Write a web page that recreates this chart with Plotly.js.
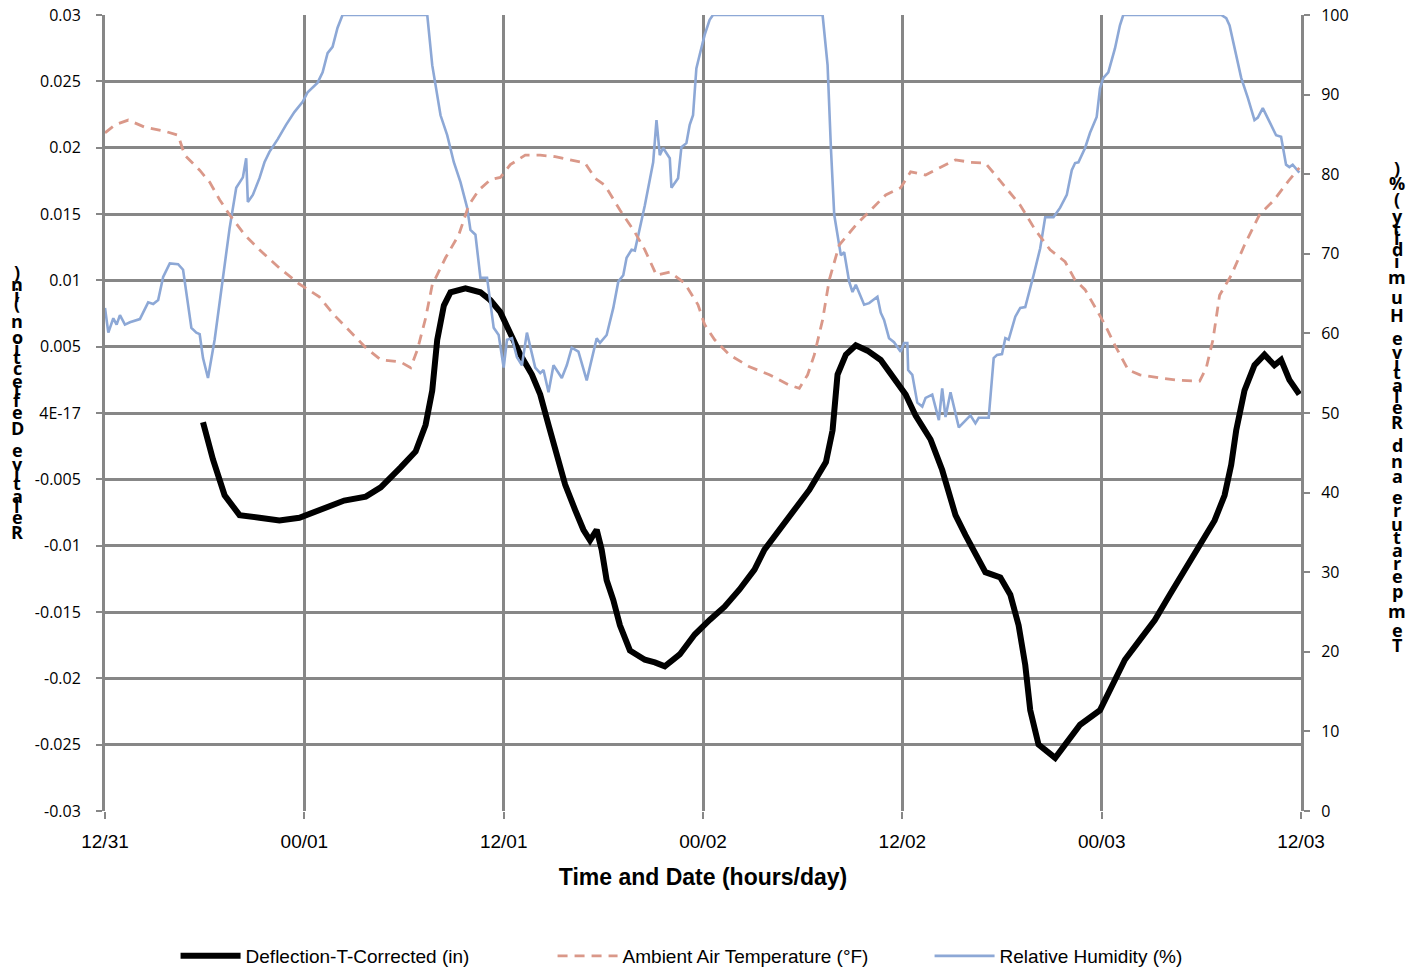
<!DOCTYPE html>
<html>
<head>
<meta charset="utf-8">
<script src="https://cdn.plot.ly/plotly-3.0.1.min.js"></script>
<style>html,body{margin:0;padding:0;background:#fff}#chart{width:1416px;height:975px}</style>
</head>
<body>
<div id="chart"></div>
<script>
// ---- Data (hours from 12/31 12:00) ----
const defHours = [5.9,6.5,7.2,8.1,9.3,10.5,11.7,12.9,14.4,15.7,16.6,17.8,18.7,19.3,19.7,20.0,20.4,20.8,21.7,22.6,23.2,23.8,24.4,25.0,25.7,26.2,26.7,27.1,27.7,28.3,28.8,29.2,29.6,29.9,30.2,30.6,31.0,31.6,32.5,33.1,33.7,34.6,35.5,36.4,37.3,38.2,39.1,39.7,40.6,41.5,42.4,43.4,43.8,44.1,44.6,45.2,45.9,46.7,47.6,48.2,48.8,49.7,50.4,51.2,51.8,52.4,53.0,53.9,54.5,55.0,55.4,55.7,56.2,56.6,57.2,57.8,58.7,59.9,60.5,61.4,62.3,63.2,64.1,65.0,65.9,66.8,67.4,67.8,68.1,68.6,69.2,69.8,70.4,70.8,71.3,71.9];
const defValues = [-0.0007,-0.0035,-0.0062,-0.0077,-0.0079,-0.0081,-0.0079,-0.0073,-0.0066,-0.0063,-0.0056,-0.0041,-0.0029,-0.0009,0.0017,0.0055,0.0081,0.0091,0.0094,0.0091,0.0085,0.0076,0.0059,0.0044,0.0029,0.0014,-0.0009,-0.0028,-0.0054,-0.0073,-0.0088,-0.0096,-0.0088,-0.0103,-0.0126,-0.0141,-0.016,-0.0179,-0.0186,-0.0188,-0.0191,-0.0182,-0.0167,-0.0156,-0.0146,-0.0133,-0.0118,-0.0103,-0.0088,-0.0073,-0.0058,-0.0037,-0.0013,0.0029,0.0044,0.0051,0.0047,0.0040,0.0025,0.0014,-0.0002,-0.002,-0.0043,-0.0077,-0.0092,-0.0107,-0.012,-0.0124,-0.0137,-0.016,-0.019,-0.0224,-0.025,-0.0254,-0.026,-0.025,-0.0235,-0.0224,-0.0209,-0.0186,-0.0171,-0.0156,-0.0137,-0.0118,-0.01,-0.0081,-0.0062,-0.0039,-0.0013,0.0017,0.0036,0.0044,0.0036,0.0040,0.0025,0.0014];

const tempHours = [0,0.6,1.4,2.4,3.6,4.4,4.8,5.7,6.3,6.9,7.5,8.4,9.3,10.5,11.7,12.9,13.8,14.8,15.7,16.6,17.8,18.4,18.8,19.3,19.7,20.5,21.3,21.9,22.5,23.2,23.8,24.4,25.3,26.2,27.1,28.0,28.9,29.5,30.1,31.0,31.9,32.5,33.2,34.0,34.9,35.7,36.1,36.7,37.6,38.8,40.0,41.2,41.8,42.3,42.7,43.2,43.6,44.2,45.2,46.1,47.0,47.9,48.5,49.4,50.3,51.2,52.1,53.0,53.6,54.2,55.1,56.0,56.9,57.8,58.4,59.0,59.6,60.2,60.8,61.6,62.3,63.5,64.7,65.9,66.3,66.7,67.1,67.8,68.6,69.5,70.4,71.3,71.9];
const tempValues = [85.2,86.2,86.8,85.9,85.4,84.9,82.4,80.5,79.0,76.8,74.9,72.4,70.5,68.2,66.2,64.6,62.3,60.2,58.2,56.7,56.4,55.7,57.9,61.9,66.1,69.5,72.4,76.1,78.0,79.3,79.6,81.2,82.4,82.4,82.2,81.8,81.4,79.5,78.6,75.5,72.7,70.5,67.3,67.7,66.3,63.6,61.1,59.2,57.3,55.8,54.8,53.5,53.1,54.8,57.3,61.7,66.7,71.1,73.6,75.5,77.4,78.3,80.3,79.9,80.9,81.8,81.5,81.4,79.9,78.4,76.1,73.0,70.5,69.0,66.7,65.5,63.3,61.1,58.5,55.4,54.8,54.4,54.1,54.0,55.7,59.2,64.8,67.3,71.1,74.9,76.8,79.3,80.8];

const rhHours = [0,0.2,0.5,0.7,0.9,1.2,1.5,2.1,2.6,2.9,3.2,3.5,3.9,4.4,4.7,4.9,5.2,5.5,5.7,5.9,6.2,6.6,6.9,7.2,7.5,7.9,8.3,8.5,8.6,8.9,9.3,9.6,9.9,10.4,10.7,10.9,11.4,11.9,12.2,12.8,13.1,13.4,13.7,14.0,14.3,19.4,19.7,20.2,20.6,21.0,21.4,21.8,22.0,22.3,22.6,23.0,23.4,23.7,24.0,24.2,24.5,24.8,25.1,25.4,25.9,26.2,26.4,26.7,27.0,27.5,27.8,28.1,28.5,29.0,29.6,29.8,30.2,30.6,30.9,31.2,31.4,31.7,31.9,32.2,32.5,33.0,33.2,33.4,33.6,34.0,34.1,34.5,34.7,35.0,35.2,35.4,35.6,35.8,36.1,36.4,36.6,43.2,43.5,43.7,43.9,44.3,44.5,44.8,45.0,45.2,45.7,46.0,46.5,46.7,46.9,47.2,47.5,47.9,48.1,48.3,48.35,48.6,48.9,49.2,49.4,49.8,50.2,50.4,50.6,50.9,51.4,52.1,52.4,52.6,53.2,53.5,53.7,54.0,54.2,54.4,54.8,55.1,55.4,55.9,56.3,56.6,57.1,57.5,57.9,58.2,58.4,58.6,59.0,59.3,59.7,59.9,60.1,60.4,60.8,61.1,61.3,67.2,67.5,67.7,68.1,68.4,68.8,69.2,69.4,69.7,70.1,70.5,70.8,71.1,71.3,71.5,71.9];
const rhValues = [63.2,60.1,61.9,61.1,62.3,61.1,61.4,61.8,63.9,63.7,64.2,67.1,68.8,68.7,68.0,65.2,60.7,60.1,59.9,56.9,54.4,59.2,63.9,68.2,73.2,78.3,79.6,82.0,76.5,77.4,79.5,81.5,82.8,84.4,85.6,86.2,87.8,89.1,90.3,91.5,92.8,95.2,96.0,98.4,100,100,93.7,87.4,84.9,81.5,79.0,75.8,73.0,72.4,67.0,67.0,60.7,59.8,55.7,59.2,59.4,57.0,56.0,60.1,55.7,55.0,55.4,52.6,56.0,54.4,56.0,58.2,57.7,54.1,59.4,58.8,59.8,63.2,66.5,67.3,69.5,70.5,70.4,73.2,76.1,81.5,86.8,82.4,83.3,82.0,78.3,79.5,83.4,83.9,86.2,87.4,93.3,95.0,97.5,99.4,100,100,93.7,83.3,74.9,69.8,70.2,66.5,65.2,66.1,63.6,63.8,64.6,62.6,61.7,59.4,58.9,57.7,58.8,58.8,55.4,54.8,51.3,50.8,51.9,52.3,49.1,53.1,49.5,52.6,48.2,49.7,48.7,49.4,49.4,56.9,57.3,57.4,59.4,59.2,62.1,63.2,63.3,67.3,70.7,74.6,74.6,75.8,77.4,80.5,81.4,81.5,83.3,85.2,87.2,90.8,92.1,92.8,95.8,98.7,100,100,99.6,98.7,95.0,92.1,89.6,86.8,87.1,88.3,86.6,84.9,84.7,81.2,80.9,81.2,80.2];

const xTickVals = [0,12,24,36,48,60,72];
const xTickText = ['12/31','00/01','12/01','00/02','12/02','00/03','12/03'];
const yTickVals = [-0.03,-0.025,-0.02,-0.015,-0.01,-0.005,0,0.005,0.01,0.015,0.02,0.025,0.03];
const yTickText = ['-0.03','-0.025','-0.02','-0.015','-0.01','-0.005','4E-17','0.005','0.01','0.015','0.02','0.025','0.03'];
const y2TickVals = [0,10,20,30,40,50,60,70,80,90,100];

const seriesNames = ['Deflection-T-Corrected (in)','Ambient Air Temperature (°F)','Relative Humidity (%)'];
const leftTitle = 'Relative Deflection (in)';
const rightTitle = 'Temperature and Relative Humidity (%)';
const xTitle = 'Time and Date (hours/day)';

const GRID = '#878787';
const NARROW = 'Liberation Sans Narrow, Liberation Sans, sans-serif';
const FONT = 'Open Sans, DejaVu Sans, sans-serif';

const traces = [
  {x: defHours, y: defValues, name: seriesNames[0], type:'scatter', mode:'lines', yaxis:'y',
   line:{color:'#000000', width:6}, legendrank:1},
  {x: tempHours, y: tempValues, name: seriesNames[1], type:'scatter', mode:'lines', yaxis:'y2',
   line:{color:'#DA9889', width:2.8, dash:'10px,7px'}, legendrank:2},
  {x: rhHours, y: rhValues, name: seriesNames[2], type:'scatter', mode:'lines', yaxis:'y2',
   line:{color:'#8DA8D6', width:2.6}, legendrank:3}
];
const ordered = [traces[2], traces[1], traces[0]];

// Stacked (upright glyph) axis titles, as in the reference
const meas = document.createElement('canvas').getContext('2d');
function stacked(text, font, size, xshift, yBottomPx, spanPx) {
  meas.font = 'bold ' + size + 'px ' + font;
  const chars = Array.from(text);
  const ws = chars.map(c => meas.measureText(c).width);
  const total = ws.reduce((a,b)=>a+b,0);
  const k = spanPx / total;
  let cum = 0; const out = [];
  chars.forEach((c,i) => {
    const center = (cum + ws[i]/2) * k;
    cum += ws[i];
    if (c === ' ') return;
    out.push({xref:'paper', yref:'paper', x:0, y:0, xanchor:'center', yanchor:'middle',
      xshift:xshift, yshift:(811 - yBottomPx) + center, showarrow:false,
      text:'<b>'+c+'</b>', font:{family:font, size:size, color:'#000'}});
  });
  return out;
}
const annotations = [].concat(
  stacked(leftTitle, FONT, 18, -88, 540, 272),
  stacked(rightTitle, FONT, 18, 1397-105, 652, 488)
);

const layout = {
  width:1416, height:975,
  margin:{l:105, r:115, t:15, b:164, autoexpand:false},
  paper_bgcolor:'#fff', plot_bgcolor:'#fff',
  showlegend:true,
  legend:{orientation:'h', x:0.059, xanchor:'left', y:6, yref:'container', yanchor:'middle',
    font:{family:NARROW, size:19, color:'#000'},
    traceorder:'normal', entrywidth:302, entrywidthmode:'pixels', itemwidth:60},
  xaxis:{range:[0,72], tickvals:xTickVals, ticktext:xTickText, showgrid:true, gridcolor:GRID, gridwidth:3,
    zeroline:false, showline:false, ticks:'outside', ticklen:7, tickwidth:2, tickcolor:GRID,
    tickfont:{family:NARROW, size:19, color:'#000'}, ticklabelstandoff:6, automargin:false,
    title:{text:'<b>'+xTitle+'</b>', font:{family:NARROW, size:23, color:'#000'}, standoff:18}},
  yaxis:{range:[-0.03,0.03], tickvals:yTickVals, ticktext:yTickText, showgrid:true, gridcolor:GRID, gridwidth:3,
    zeroline:false, showline:true, linecolor:GRID, linewidth:3, ticks:'outside', ticklen:6, tickwidth:2, tickcolor:GRID,
    tickfont:{family:FONT, size:16, color:'#000'}, ticklabelstandoff:12, automargin:false},
  yaxis2:{range:[0,100], tickvals:y2TickVals, overlaying:'y', side:'right', showgrid:false, zeroline:false,
    showline:true, linecolor:GRID, linewidth:3, ticks:'outside', ticklen:6, tickwidth:2, tickcolor:GRID,
    tickfont:{family:FONT, size:16, color:'#000'}, ticklabelstandoff:8, automargin:false},
  annotations: annotations
};
Plotly.newPlot('chart', ordered, layout, {displayModeBar:false, staticPlot:true});
</script>
</body>
</html>
